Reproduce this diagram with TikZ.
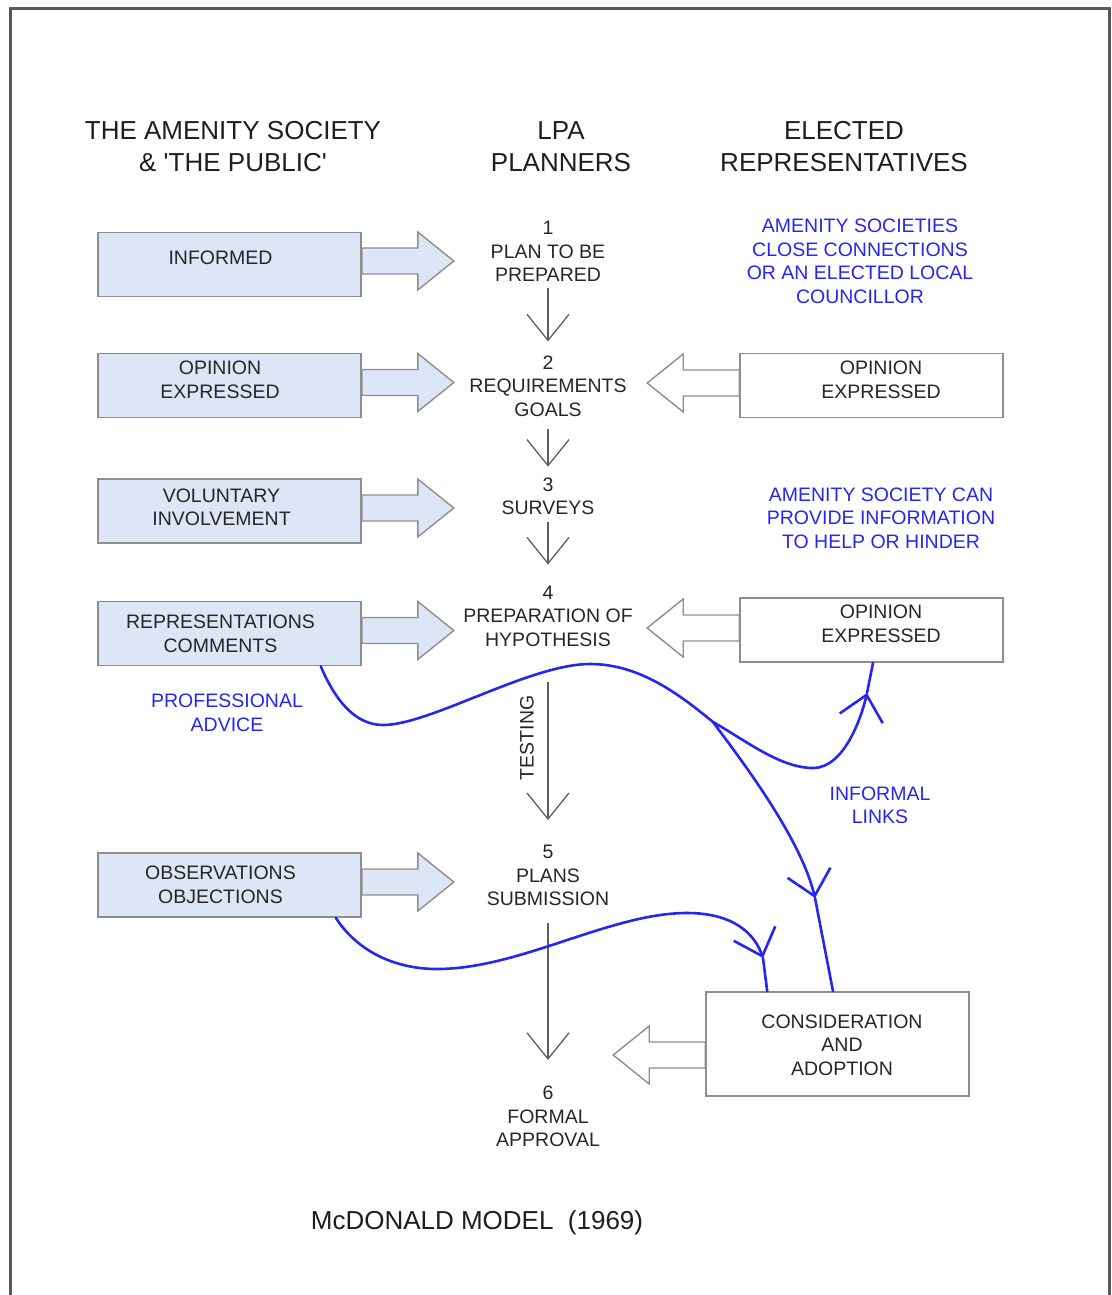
\documentclass[tikz,border=0pt]{standalone}
\usepackage{fontspec}
\setmainfont{Liberation Sans}
\usetikzlibrary{arrows.meta,calc}
\pgfdeclarelayer{background}
\pgfsetlayers{background,main}

\definecolor{boxblue}{HTML}{DCE6F7}
\definecolor{edgegray}{HTML}{8E8E8E}
\definecolor{inkgray}{HTML}{262626}
\definecolor{headgray}{HTML}{1E1E1E}
\definecolor{linkblue}{HTML}{2626F2}
\definecolor{flowgray}{HTML}{5E5E5E}
\definecolor{framegray}{HTML}{585858}

\begin{document}
\begin{tikzpicture}[x=1pt,y=-1pt,
  body/.style={font=\fontsize{19.5}{23.5}\selectfont, text=inkgray, align=center, inner sep=0pt},
  head/.style={font=\fontsize{26}{32}\selectfont, text=headgray, align=center, inner sep=0pt},
  note/.style={body, text=linkblue},
  lbox/.style={draw=edgegray, line width=1.6pt, fill=boxblue, minimum width=263pt, minimum height=64pt, inner sep=0pt},
  rbox/.style={lbox, fill=white},
  blkblue/.style={draw=edgegray, line width=1.4pt, fill=boxblue, line join=miter},
  blkwhite/.style={blkblue, fill=white},
  flow/.style={draw=flowgray, line width=1.3pt, -{Straight Barb[length=26pt,width=42pt]}},
  link/.style={draw=linkblue, line width=2.6pt, line cap=round},
  linkarrow/.style={link, -{Straight Barb[length=24pt,width=44pt]}},
  pics/blockarrow/.style={code={
    \draw[#1] (0,-13) -- (56,-13) -- (56,-29) -- (92,0) -- (56,29) -- (56,13) -- (0,13) -- cycle;}}
]
\useasboundingbox (0,0) rectangle (1111,1295);

% page frame (open at the bottom)
\draw[framegray, line width=3.5pt] (10.3,1300) -- (10.3,8.7) -- (1109.3,8.7) -- (1109.3,1300);

% column headings
\node[head] (h1) at (233,147) {THE AMENITY SOCIETY\\\& \textquotesingle THE PUBLIC\textquotesingle};
\node[head] (h2) at (561,147) {LPA\\PLANNERS};
\node[head] (h3) at (844,146.5) {ELECTED\\REPRESENTATIVES};

% left column: the amenity society and the public
\node[lbox] (L1) at (229.5,264.5) {};
\node[lbox] (L2) at (229.5,385.5) {};
\node[lbox] (L3) at (229.5,511) {};
\node[lbox] (L4) at (229.5,633.5) {};
\node[lbox] (L5) at (229.5,885) {};
\node[body] (L1t) at ($(L1)+(-9,-6.5)$) {INFORMED};
\node[body] (L2t) at ($(L2)+(-9.5,-5.5)$) {OPINION\\EXPRESSED};
\node[body] (L3t) at ($(L3)+(-8,-3.5)$) {VOLUNTARY\\INVOLVEMENT};
\node[body] (L4t) at ($(L4)+(-9,0.5)$) {REPRESENTATIONS\\COMMENTS};
\node[body] (L5t) at ($(L5)+(-9,0)$) {OBSERVATIONS\\OBJECTIONS};

% right column: elected representatives
\node[rbox] (R1) at (871.5,385.5) {};
\node[rbox] (R2) at (871.5,630) {};
\node[rbox, minimum height=104pt] (R3) at (837.5,1044) {};
\node[body] (R1t) at ($(R1)+(9.5,-5.5)$) {OPINION\\EXPRESSED};
\node[body] (R2t) at ($(R2)+(9.5,-6)$) {OPINION\\EXPRESSED};
\node[body] (R3t) at ($(R3)+(4.5,1)$) {CONSIDERATION\\AND\\ADOPTION};

% block arrows behind the boxes
\begin{pgfonlayer}{background}
  \pic at ($(L1.east)+(0,-3.5)$) {blockarrow=blkblue};
  \pic at ($(L2.east)+(0,-3)$) {blockarrow=blkblue};
  \pic at ($(L3.east)+(0,-3)$) {blockarrow=blkblue};
  \pic at ($(L4.east)+(0,-3)$) {blockarrow=blkblue};
  \pic at ($(L5.east)+(0,-3)$) {blockarrow=blkblue};
  \pic[xscale=-1] at ($(R1.west)+(0,-2.5)$) {blockarrow=blkwhite};
  \pic[xscale=-1] at ($(R2.west)+(0,-2)$) {blockarrow=blkwhite};
  \pic[xscale=-1] at ($(R3.west)+(0,11)$) {blockarrow=blkwhite};
\end{pgfonlayer}

% centre column: planning stages
\node[body] (C1) at (548,251.5) {1\\PLAN TO BE\\PREPARED};
\node[body] (C2) at (548,386) {2\\REQUIREMENTS\\GOALS};
\node[body] (C3) at (548,496.5) {3\\SURVEYS};
\node[body] (C4) at (548,616) {4\\PREPARATION OF\\HYPOTHESIS};
\node[body] (C5) at (548,875.5) {5\\PLANS\\SUBMISSION};
\node[body] (C6) at (548,1116.5) {6\\FORMAL\\APPROVAL};

\draw[flow, shorten <=6pt, shorten >=14pt] (C1) -- (C2);
\draw[flow, shorten <=12pt, shorten >=11pt] (C2) -- (C3);
\draw[flow, shorten <=7pt, shorten >=21pt] (C3) -- (C4);
\draw[flow, shorten <=35pt, shorten >=25pt] (C4) -- (C5);
\draw[flow, shorten <=17pt, shorten >=26pt] (C5) -- (C6);
\node[body, rotate=90] (testing) at (527,738) {TESTING};

% notes
\node[note] (n1) at (860,261.5) {AMENITY SOCIETIES\\CLOSE CONNECTIONS\\OR AN ELECTED LOCAL\\COUNCILLOR};
\node[note] (n2) at (881,518) {AMENITY SOCIETY CAN\\PROVIDE INFORMATION\\TO HELP OR HINDER};
\node[note] (n3) at (227,713) {PROFESSIONAL\\ADVICE};
\node[note] (n4) at (880,805.5) {INFORMAL\\LINKS};

% informal links
\coordinate (fork) at (713,722);
\draw[link] ($(L4.south east)+(-41,0)$)
  .. controls (335,700) and (355,725) .. (383,725)
  .. controls (430,725) and (530,664) .. (590,664)
  .. controls (640,664) and (680,695) .. (fork)
  .. controls (745,740) and (780,768) .. (813,768);
\draw[linkarrow] (813,768) .. controls (845,768) and (862,715) .. (867,693);
\draw[link] (867,693) -- ($(R2.south)+(1.5,0)$);
\draw[linkarrow] (fork) .. controls (735,752) and (800,835) .. (815,898);
\draw[link] (815,898) -- ($(R3.north)+(-4.5,0)$);

\draw[link] ($(L5.south east)+(-26,0)$)
  .. controls (360,955) and (400,969) .. (437,969)
  .. controls (520,969) and (610,913) .. (687,913);
\draw[linkarrow] (687,913) .. controls (735,913) and (755,935) .. (763,958);
\draw[link] (763,958) -- ($(R3.north west)+(62,0)$);

% caption
\node[head] (cap) at (477,1223) {McDONALD MODEL\ \ (1969)};
\end{tikzpicture}
\end{document}
